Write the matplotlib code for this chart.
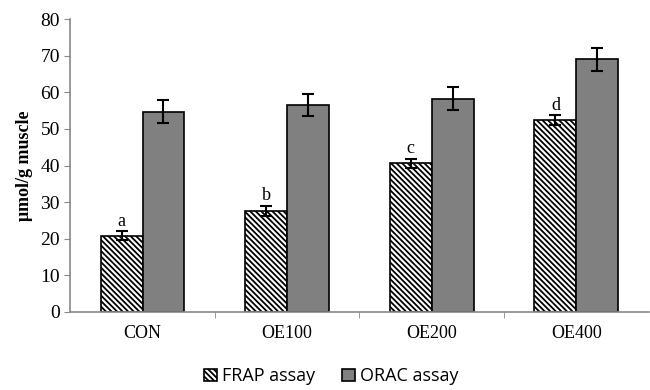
import numpy as np
import matplotlib
matplotlib.use("Agg")
import matplotlib.pyplot as plt

groups = ["CON", "OE100", "OE200", "OE400"]
frap = [20.8, 27.6, 40.6, 52.4]
frap_err = [1.2, 1.3, 1.3, 1.3]
orac = [54.7, 56.5, 58.3, 69.0]
orac_err = [3.1, 3.1, 3.1, 3.1]
letters = ["a", "b", "c", "d"]

plt.rcParams['hatch.linewidth'] = 1.3

fig = plt.figure(figsize=(6.5, 3.9), dpi=100)
ax = fig.add_axes([0.108, 0.2, 0.89, 0.751])

x = np.arange(len(groups))
w = 0.29
serif = "Liberation Serif"

b1 = ax.bar(x - w/2, frap, w, color="white", edgecolor="black", hatch="\\" * 6,
            linewidth=1.2, label="FRAP assay")
b2 = ax.bar(x + w/2, orac, w, color="#808080", edgecolor="black",
            linewidth=1.2, label="ORAC assay")
ax.errorbar(x - w/2, frap, yerr=frap_err, fmt="none", ecolor="black",
            elinewidth=1.5, capsize=4, capthick=1.5)
ax.errorbar(x + w/2, orac, yerr=orac_err, fmt="none", ecolor="black",
            elinewidth=1.5, capsize=4, capthick=1.5)

for xi, v, e, t in zip(x - w/2, frap, frap_err, letters):
    ax.text(xi, v + e + 0.5, t, ha="center", va="bottom", fontsize=13, family=serif)

ax.set_xlim(-0.5, 3.5)
ax.set_ylim(0, 80)
ax.set_yticks(range(0, 81, 10))
ax.set_xticks(x)
ax.set_xticklabels(groups, fontsize=13, family=serif)
ax.set_xticks([0.5, 1.5, 2.5], minor=True)
ax.tick_params(axis="x", which="major", length=0, pad=9)
ax.tick_params(axis="x", which="minor", length=4, color="#888888")
ax.tick_params(axis="y", length=4, color="#888888", labelsize=14)
for lab in ax.get_yticklabels():
    lab.set_family(serif)

for s in ["top", "right"]:
    ax.spines[s].set_visible(False)
for s in ["left", "bottom"]:
    ax.spines[s].set_color("#888888")
    ax.spines[s].set_linewidth(1.2)

ax.set_ylabel("μmol/g muscle", fontsize=13, fontweight="bold", family=serif, labelpad=5)

fig.legend(handles=[b1, b2], loc="lower center", bbox_to_anchor=(0.51, -0.03), ncol=2,
           frameon=False, prop={"family": "Open Sans", "size": 13},
           handlelength=0.7, handleheight=0.7, handletextpad=0.3, columnspacing=1.5)

fig.savefig("out.png", dpi=100)
